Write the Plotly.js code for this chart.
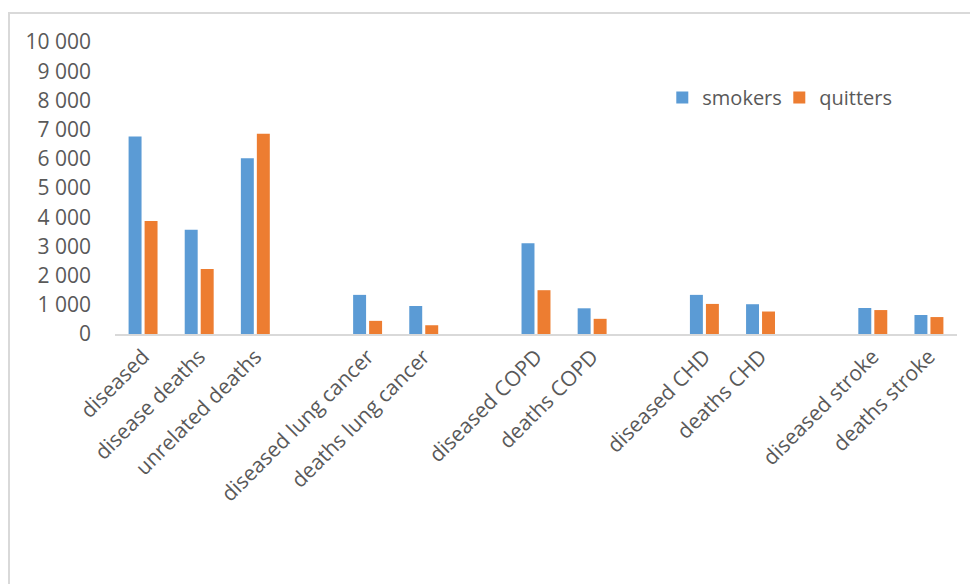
<!DOCTYPE html>
<html>
<head>
<meta charset="utf-8">
<script src="https://cdn.plot.ly/plotly-3.0.1.min.js"></script>
<style>
  html, body { margin: 0; padding: 0; background: #fff; }
  #wrap { position: relative; width: 970px; height: 584px; }
  #chart { width: 970px; height: 584px; }
  #frame { position: absolute; left: 8px; top: 12px; width: 980px; height: 600px;
           border-left: 2px solid #d9d9d9; border-top: 2px solid #d9d9d9; pointer-events: none; box-sizing: border-box; }
</style>
</head>
<body>
<div id="wrap">
  <div id="chart"></div>
  <div id="frame"></div>
</div>
<script>
// Categories (blank entries are spacer slots between groups)
const categories = [
  "diseased", "disease deaths", "unrelated deaths", " ",
  "diseased lung cancer", "deaths lung cancer", "  ",
  "diseased COPD", "deaths COPD", "   ",
  "diseased CHD", "deaths CHD", "    ",
  "diseased stroke", "deaths stroke"
];
const smokers = [6760, 3570, 6020, null, 1340, 960, null, 3110, 880, null, 1340, 1020, null, 890, 650];
const quitters = [3870, 2230, 6860, null, 450, 300, null, 1500, 520, null, 1030, 770, null, 820, 580];
const yTicks = [0, 1000, 2000, 3000, 4000, 5000, 6000, 7000, 8000, 9000, 10000];

const font = { family: "Open Sans, sans-serif", size: 20, color: "#595959" };
const axisFont = { family: "Open Sans, sans-serif", size: 21, color: "#595959" };

const traces = [
  { type: "bar", name: "smokers", x: categories, y: smokers,
    marker: { color: "#5B9BD5", line: { width: 0 } }, hoverinfo: "skip" },
  { type: "bar", name: "quitters", x: categories, y: quitters,
    marker: { color: "#ED7D31", line: { width: 0 } }, hoverinfo: "skip" }
];

const layout = {
  width: 970, height: 584,
  margin: { l: 115, r: 13, t: 42, b: 250, pad: 0 },
  paper_bgcolor: "#fff", plot_bgcolor: "#fff",
  font: font,
  separators: ". ",
  barmode: "group",
  bargap: 0.43,
  bargroupgap: 0.19,
  showlegend: true,
  legend: { orientation: "h", x: 0.65, xanchor: "left", y: 0.81, yanchor: "middle",
            font: font, bgcolor: "rgba(0,0,0,0)", itemwidth: 30,
            entrywidth: 72, entrywidthmode: "pixels" },
  xaxis: {
    type: "category", categoryorder: "array", categoryarray: categories,
    tickangle: -45, ticks: "", showgrid: false, zeroline: false,
    showline: true, linecolor: "#d9d9d9", linewidth: 2,
    tickfont: axisFont, automargin: false
  },
  yaxis: {
    range: [0, 10000], tickvals: yTicks, tickformat: ",d",
    showgrid: false, zeroline: false, showline: false, ticks: "",
    tickfont: axisFont, ticklabelstandoff: 23, automargin: false
  }
};

Plotly.newPlot("chart", traces, layout, { staticPlot: true, displayModeBar: false });
</script>
</body>
</html>
